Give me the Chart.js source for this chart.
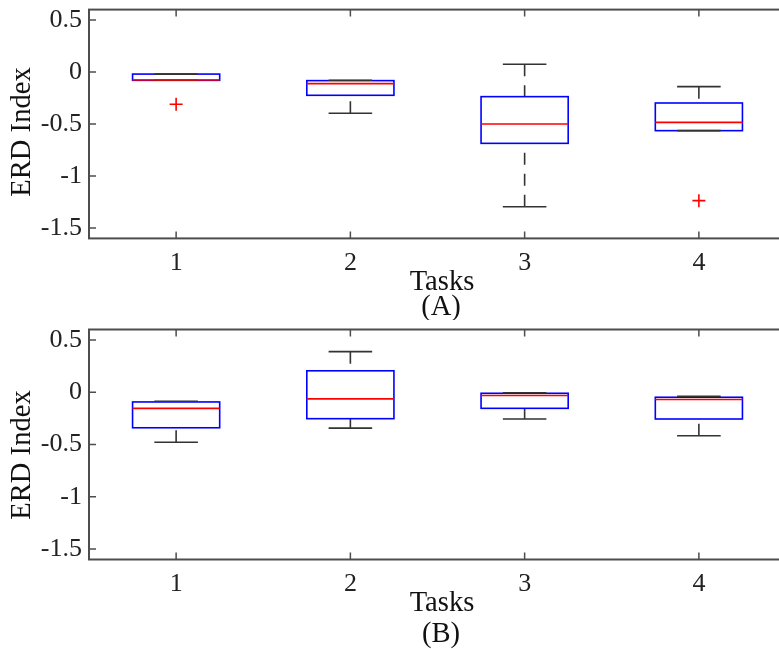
<!DOCTYPE html>
<html>
<head>
<meta charset="utf-8">
<script src="https://cdn.jsdelivr.net/npm/chart.js@4/dist/chart.umd.min.js"></script>
<style>
  html, body { margin: 0; padding: 0; background: #fff; width: 779px; height: 649px; overflow: hidden; position: relative; }
  canvas { position: absolute; left: 0; }
</style>
</head>
<body>
<canvas id="cA" width="800" height="320" style="top:0px"></canvas>
<canvas id="cB" width="800" height="329" style="top:320px"></canvas>
<script>
// ---- data ----
const categories = [1, 2, 3, 4];
const yTickValues = [-1.5, -1, -0.5, 0, 0.5];

// Panel A
const aHi  = [-0.02, -0.08, 0.074, -0.141];
const aQ3  = [-0.02, -0.083, -0.237, -0.298];
const aMed = [-0.077, -0.112, -0.5, -0.484];
const aQ1  = [-0.08, -0.224, -0.686, -0.564];
const aLo  = [-0.08, -0.397, -1.295, -0.564];
const aOutX = [1, 4];
const aOutY = [-0.31, -1.237];

// Panel B
const bHi  = [-0.087, 0.388, -0.005, -0.038];
const bQ3  = [-0.093, 0.205, -0.01, -0.048];
const bMed = [-0.154, -0.064, -0.032, -0.07];
const bQ1  = [-0.34, -0.253, -0.154, -0.256];
const bLo  = [-0.478, -0.343, -0.256, -0.417];
const bOutX = [];
const bOutY = [];

const SERIF = "'Liberation Serif', serif";
const AXIS_COLOR = '#4d4d4d';
Chart.defaults.font.family = SERIF;
Chart.defaults.font.size = 26;
Chart.defaults.color = '#222';

function makePanel(canvasId, hi, q3, med, q1, lo, outX, outY, letter, padTop, xHeight, titleY, letterY, ylabY) {
  const boxPlugin = {
    id: 'box_' + letter,
    afterDatasetsDraw(chart) {
      const ctx = chart.ctx;
      const x = chart.scales.x, y = chart.scales.y;
      const a = chart.chartArea;
      ctx.save();
      for (let i = 0; i < categories.length; i++) {
        const c = categories[i];
        const xl = x.getPixelForValue(c - 0.25), xr = x.getPixelForValue(c + 0.25);
        const cl = x.getPixelForValue(c - 0.125), cr = x.getPixelForValue(c + 0.125);
        const xc = x.getPixelForValue(c);
        const pHi = y.getPixelForValue(hi[i]), pQ3 = y.getPixelForValue(q3[i]);
        const pQ1 = y.getPixelForValue(q1[i]), pLo = y.getPixelForValue(lo[i]);
        const pMed = y.getPixelForValue(med[i]);
        // whiskers (dashed)
        ctx.strokeStyle = '#333';
        ctx.lineWidth = 1.6;
        ctx.setLineDash([12, 9]);
        ctx.beginPath();
        ctx.moveTo(xc, pHi); ctx.lineTo(xc, pQ3);
        ctx.moveTo(xc, pLo); ctx.lineTo(xc, pQ1);
        ctx.stroke();
        ctx.setLineDash([]);
        // box
        ctx.strokeStyle = '#0000ff';
        ctx.lineWidth = 1.6;
        ctx.strokeRect(xl, pQ3, xr - xl, pQ1 - pQ3);
        // caps
        ctx.strokeStyle = '#333';
        ctx.beginPath();
        ctx.moveTo(cl, pHi); ctx.lineTo(cr, pHi);
        ctx.moveTo(cl, pLo); ctx.lineTo(cr, pLo);
        ctx.stroke();
        // median
        ctx.strokeStyle = '#ff0000';
        ctx.beginPath();
        ctx.moveTo(xl, pMed); ctx.lineTo(xr, pMed);
        ctx.stroke();
      }
      // frame
      ctx.strokeStyle = AXIS_COLOR;
      ctx.lineWidth = 2;
      ctx.strokeRect(a.left, a.top, a.right - a.left, a.bottom - a.top);
      // inward ticks
      ctx.lineWidth = 1.5;
      ctx.beginPath();
      const tl = 7;
      x.ticks.forEach(t => {
        const px = x.getPixelForValue(t.value);
        ctx.moveTo(px, a.bottom); ctx.lineTo(px, a.bottom - tl);
        ctx.moveTo(px, a.top); ctx.lineTo(px, a.top + tl);
      });
      y.ticks.forEach(t => {
        const py = y.getPixelForValue(t.value);
        ctx.moveTo(a.left, py); ctx.lineTo(a.left + tl, py);
        ctx.moveTo(a.right, py); ctx.lineTo(a.right - tl, py);
      });
      ctx.stroke();
      // titles
      ctx.fillStyle = '#111';
      ctx.font = '28.6px ' + SERIF;
      ctx.textAlign = 'center';
      ctx.textBaseline = 'middle';
      ctx.fillText('Tasks', 442, titleY);
      ctx.fillText('(' + letter + ')', 441, letterY);
      ctx.save();
      ctx.translate(22, ylabY);
      ctx.rotate(-Math.PI / 2);
      ctx.fillText('ERD Index', 0, 0);
      ctx.restore();
      ctx.restore();
    }
  };

  return new Chart(document.getElementById(canvasId), {
    type: 'scatter',
    data: {
      datasets: [{
        data: outX.map((v, i) => ({ x: v, y: outY[i] })),
        pointStyle: 'cross',
        pointRadius: 6.5,
        pointBorderColor: '#ff0000',
        pointBorderWidth: 1.6,
        borderColor: '#ff0000',
        backgroundColor: '#ff0000'
      }]
    },
    options: {
      responsive: false,
      animation: false,
      devicePixelRatio: 1,
      layout: { padding: { left: 0, top: padTop, right: 14, bottom: 0 } },
      plugins: { legend: { display: false }, tooltip: { enabled: false } },
      scales: {
        x: {
          type: 'linear', min: 0.5, max: 4.5,
          grid: { display: false, drawTicks: false },
          border: { display: false },
          afterBuildTicks: s => { s.ticks = categories.map(v => ({ value: v })); },
          afterFit: s => { s.height = xHeight; s.paddingLeft = 0; s.paddingRight = 0; },
          ticks: {
            padding: 9,
            color: '#222',
            font: { family: SERIF, size: 26 },
            maxRotation: 0,
            callback: v => String(v)
          }
        },
        y: {
          type: 'linear', min: -1.6, max: 0.6,
          grid: { display: false, drawTicks: false },
          border: { display: false },
          afterBuildTicks: s => { s.ticks = yTickValues.map(v => ({ value: v })); },
          afterFit: s => { s.width = 89; s.paddingTop = 0; s.paddingBottom = 0; },
          ticks: {
            padding: 7,
            color: '#222',
            font: { family: SERIF, size: 26 },
            callback: v => String(v)
          }
        }
      }
    },
    plugins: [boxPlugin]
  });
}

makePanel('cA', aHi, aQ3, aMed, aQ1, aLo, aOutX, aOutY, 'A', 9.6, 81.6, 282, 307.5, 132);
makePanel('cB', bHi, bQ3, bMed, bQ1, bLo, bOutX, bOutY, 'B', 9.5, 89.5, 283, 314, 135);
</script>
</body>
</html>
